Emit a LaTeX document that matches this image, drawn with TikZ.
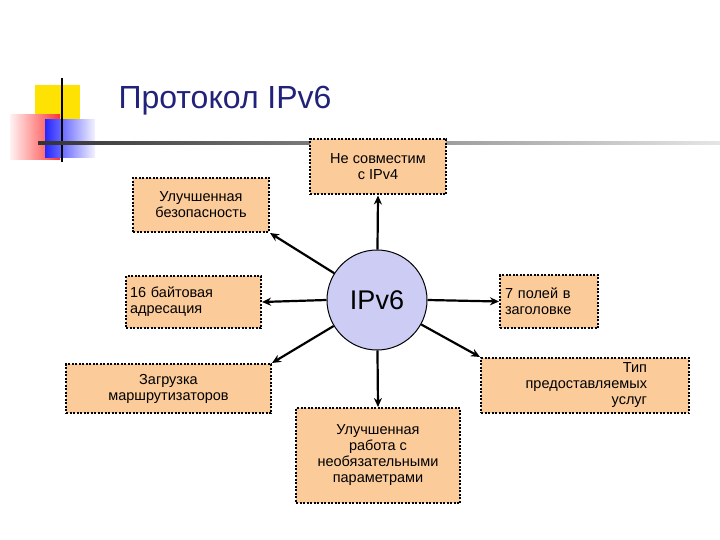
\documentclass[tikz,border=0pt]{standalone}
\usepackage{fontspec}
\setmainfont{Liberation Sans}
\usetikzlibrary{arrows.meta}
\definecolor{peach}{HTML}{FCCB9A}
\definecolor{navy}{HTML}{22227A}
\definecolor{lilac}{HTML}{CCCCF4}
\begin{document}
\begin{tikzpicture}[x=1pt,y=-1pt,
  bx/.style={draw=black,fill=peach,line width=2pt,dash pattern=on 2pt off 1.5pt,inner sep=0pt,font=\fontsize{14.5}{16}\selectfont,align=center},
  ar/.style={line width=2.2pt,-{Stealth[length=9pt,width=8pt]}}]
\useasboundingbox (0,0) rectangle (720,540);
% logo
\fill[yellow!85!orange] (35,85) rectangle (80,128);
\shade[left color=red!5,right color=red!80] (10,115) rectangle (60,160);
\shade[left color=blue!85,right color=blue!5] (45,120) rectangle (95,158);
\draw[line width=1.5pt] (62,78) -- (62,162);
\shade[left color=black!80,right color=black!10] (38,142) rectangle (720,145);
\node[anchor=west,text=navy,font=\fontsize{32}{36}\selectfont] (t) at (115,101) {Протокол IPv6};
% center
\node[circle,draw,line width=1pt,fill=lilac,minimum size=100pt,font=\fontsize{27}{30}\selectfont] (c) at (377,300) {IPv6};
\node[bx,minimum width=136pt,minimum height=54pt] (a) at (201,205) {Улучшенная\\безопасность};
\node[bx,minimum width=136pt,minimum height=55pt] (b) at (378,167) {Не совместим\\с IPv4};
\node[bx,minimum width=135pt,minimum height=52pt,align=left,text width=127pt] (d) at (193.5,302) {16 байтовая\\адресация};
\node[bx,minimum width=98pt,minimum height=53pt,align=left,text width=88pt] (e) at (549,301.5) {7 полей в\\заголовке};
\node[bx,minimum width=205pt,minimum height=49pt] (f) at (168.5,388.5) {Загрузка\\маршрутизаторов};
\node[bx,minimum width=208pt,minimum height=55pt,align=right,text width=124pt] (g) at (585,385.5) {Тип предоставляемых\\услуг};
\node[bx,minimum width=164pt,minimum height=95pt] (h) at (378,455.5) {Улучшенная\\работа с\\необязательными\\параметрами};
\draw[ar] (c) -- (b.south);
\draw[ar] (c) -- (a.south east);
\draw[ar] (c.west) -- (d.east);
\draw[ar] (c.east) -- (e.west);
\draw[ar] (c) -- (f.north east);
\draw[ar] (c) -- (g.north west);
\draw[ar] (c) -- (h.north);
\end{tikzpicture}
\end{document}
